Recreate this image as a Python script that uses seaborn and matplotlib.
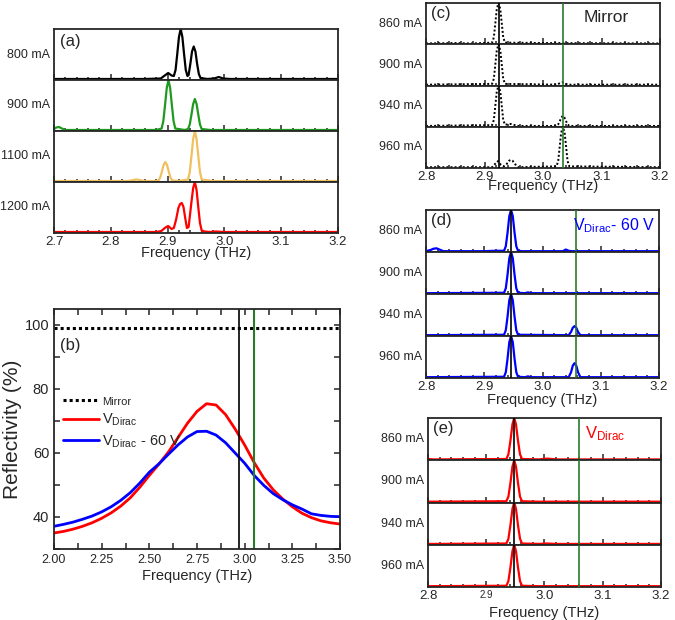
import matplotlib
matplotlib.use("Agg")
import matplotlib.pyplot as plt
from matplotlib.ticker import MultipleLocator, FixedLocator
from matplotlib.lines import Line2D
import seaborn as sns

sns.set_style("ticks")
plt.rcParams['font.family'] = ['Liberation Sans', 'DejaVu Sans']
plt.rcParams['mathtext.default'] = 'regular'

W, H = 675, 620
GREEN_LINE = '#2a7a2a'

# ---- panel (a): spectra vs current, 2.7-3.2 THz ----
a_labels = ["800 mA", "900 mA", "1100 mA", "1200 mA"]
a_colors = ["black", "#1f9a1f", "#f0c060", "#ff0000"]
a_800_f = [2.700, 2.860, 2.888, 2.895, 2.901, 2.907, 2.911, 2.914, 2.917, 2.920, 2.923, 2.926, 2.929,
           2.932, 2.935, 2.937, 2.940, 2.943, 2.946, 2.949, 2.952, 2.955, 2.958, 2.970, 2.982, 2.990,
           2.998, 3.010, 3.200]
a_800_s = [0.00, 0.00, 0.01, 0.07, 0.12, 0.07, 0.06, 0.18, 0.50, 0.84, 1.00, 0.84, 0.50,
           0.18, 0.06, 0.08, 0.30, 0.55, 0.65, 0.55, 0.30, 0.10, 0.02, 0.00, 0.01, 0.04,
           0.01, 0.00, 0.00]
a_900_f = [2.700, 2.704, 2.709, 2.714, 2.720, 2.880, 2.8895, 2.8925, 2.8955, 2.8985, 2.9015, 2.9045,
           2.9075, 2.9105, 2.9135, 2.930, 2.936, 2.939, 2.942, 2.945, 2.948, 2.951, 2.954, 2.957,
           2.960, 2.975, 3.200]
a_900_s = [0.02, 0.05, 0.06, 0.03, 0.00, 0.00, 0.03, 0.18, 0.50, 0.84, 1.00, 0.84,
           0.50, 0.18, 0.03, 0.00, 0.02, 0.11, 0.31, 0.52, 0.62, 0.52, 0.31, 0.11,
           0.02, 0.00, 0.00]
a_1100_f = [2.700, 2.830, 2.845, 2.860, 2.880, 2.884, 2.887, 2.890, 2.893, 2.896, 2.899, 2.902, 2.905,
            2.908, 2.920, 2.936, 2.939, 2.942, 2.945, 2.948, 2.951, 2.954, 2.957, 2.960, 2.980, 3.200]
a_1100_s = [0.00, 0.00, 0.03, 0.00, 0.00, 0.01, 0.07, 0.19, 0.32, 0.38, 0.32, 0.19, 0.07,
            0.01, 0.00, 0.03, 0.18, 0.50, 0.84, 1.00, 0.84, 0.50, 0.18, 0.03, 0.00, 0.00]
a_1200_f = [2.700, 2.880, 2.889, 2.895, 2.901, 2.907, 2.911, 2.915, 2.919, 2.922, 2.925, 2.928, 2.931,
            2.934, 2.937, 2.939, 2.942, 2.945, 2.948, 2.951, 2.954, 2.957, 2.960, 2.965, 2.975, 2.985,
            3.000, 3.200]
a_1200_s = [0.00, 0.00, 0.02, 0.08, 0.12, 0.06, 0.08, 0.25, 0.48, 0.56, 0.58, 0.50, 0.28,
            0.08, 0.10, 0.30, 0.60, 0.88, 1.00, 0.84, 0.50, 0.18, 0.03, 0.01, 0.00, 0.01,
            0.00, 0.00]

# ---- panel (b): reflectivity ----
b_freq = [2.00, 2.05, 2.10, 2.15, 2.20, 2.25, 2.30, 2.35, 2.40, 2.45, 2.50, 2.55, 2.60, 2.65, 2.70,
          2.75, 2.80, 2.85, 2.90, 2.95, 3.00, 3.05, 3.10, 3.15, 3.20, 3.25, 3.30, 3.35, 3.40, 3.45, 3.50]
b_dirac = [35.0, 35.5, 36.2, 37.1, 38.2, 39.6, 41.3, 43.4, 46.0, 49.3, 53.0, 56.5, 60.3, 64.8, 69.3,
           73.0, 75.4, 75.0, 72.0, 67.5, 62.5, 57.0, 52.2, 48.5, 45.6, 43.2, 41.2, 39.8, 38.8, 38.2, 37.8]
b_dirac60 = [37.1, 37.7, 38.4, 39.3, 40.3, 41.6, 43.2, 45.2, 47.6, 50.6, 54.0, 56.6, 59.6, 62.5, 65.0,
             66.7, 66.8, 65.6, 63.2, 60.0, 56.8, 53.0, 49.9, 47.3, 45.4, 43.8, 42.5, 41.0, 40.5, 40.2, 40.1]
b_mirror_f = [2.00, 3.50]
b_mirror = [99.0, 99.0]
b_black_line = 2.97
b_green_line = 3.05

# ---- panel (c): mirror, dotted ----
cde_labels = ["860 mA", "900 mA", "940 mA", "960 mA"]
c_860_f = [2.800, 2.850, 2.880, 2.913, 2.916, 2.9185, 2.921, 2.924, 2.927, 2.9295, 2.932, 2.935, 3.000, 3.200]
c_860_s = [0.00, 0.01, 0.00, 0.02, 0.15, 0.50, 0.85, 1.00, 0.85, 0.50, 0.15, 0.02, 0.01, 0.00]
c_900_f = [2.800, 2.913, 2.916, 2.9185, 2.921, 2.924, 2.927, 2.9295, 2.932, 2.935, 3.024, 3.029, 3.033,
           3.037, 3.042, 3.200]
c_900_s = [0.00, 0.02, 0.15, 0.50, 0.85, 1.00, 0.85, 0.50, 0.15, 0.02, 0.00, 0.04, 0.06,
           0.04, 0.00, 0.00]
c_940_f = [2.800, 2.913, 2.916, 2.9185, 2.921, 2.924, 2.927, 2.9295, 2.932, 2.935, 2.940, 2.945, 2.950,
           2.955, 3.023, 3.026, 3.029, 3.0315, 3.034, 3.0365, 3.039, 3.042, 3.045, 3.200]
c_940_s = [0.00, 0.02, 0.15, 0.50, 0.85, 1.00, 0.85, 0.50, 0.15, 0.03, 0.04, 0.05, 0.03,
           0.00, 0.00, 0.04, 0.13, 0.21, 0.25, 0.21, 0.13, 0.04, 0.00, 0.00]
c_960_f = [2.800, 2.913, 2.918, 2.923, 2.928, 2.933, 2.938, 2.942, 2.945, 2.948, 2.952, 2.957, 3.023,
           3.026, 3.0285, 3.031, 3.034, 3.037, 3.0395, 3.042, 3.045, 3.200]
c_960_s = [0.00, 0.00, 0.08, 0.15, 0.06, 0.02, 0.08, 0.16, 0.18, 0.16, 0.08, 0.00, 0.02,
           0.15, 0.50, 0.85, 1.00, 0.85, 0.50, 0.15, 0.02, 0.00]
c_black_line = 2.924
c_green_line = 3.034

# ---- panel (d): V_Dirac - 60 V ----
d_860_f = [2.800, 2.808, 2.813, 2.818, 2.823, 2.830, 2.900, 2.920, 2.934, 2.937, 2.940, 2.943, 2.946,
           2.949, 2.952, 2.955, 2.958, 2.965, 3.035, 3.040, 3.045, 3.050, 3.200]
d_860_s = [0.00, 0.03, 0.06, 0.07, 0.04, 0.00, 0.00, 0.01, 0.01, 0.12, 0.45, 0.85, 1.00,
           0.85, 0.45, 0.12, 0.01, 0.00, 0.00, 0.04, 0.01, 0.00, 0.00]
d_900_f = [2.800, 2.934, 2.937, 2.940, 2.943, 2.946, 2.949, 2.952, 2.955, 2.958, 2.970, 2.975, 2.980, 3.200]
d_900_s = [0.00, 0.01, 0.12, 0.45, 0.85, 1.00, 0.85, 0.45, 0.12, 0.01, 0.00, 0.02, 0.00, 0.00]
d_940_f = [2.800, 2.934, 2.937, 2.940, 2.943, 2.946, 2.949, 2.952, 2.955, 2.958, 3.045, 3.049, 3.052,
           3.055, 3.058, 3.061, 3.065, 3.200]
d_940_s = [0.00, 0.01, 0.12, 0.45, 0.85, 1.00, 0.85, 0.45, 0.12, 0.01, 0.00, 0.08, 0.18,
           0.22, 0.18, 0.08, 0.00, 0.00]
d_960_f = [2.800, 2.934, 2.937, 2.940, 2.943, 2.946, 2.949, 2.952, 2.955, 2.958, 2.970, 2.975, 2.980,
           3.045, 3.049, 3.052, 3.055, 3.058, 3.061, 3.065, 3.200]
d_960_s = [0.00, 0.01, 0.12, 0.45, 0.85, 1.00, 0.85, 0.45, 0.12, 0.01, 0.00, 0.02, 0.00,
           0.00, 0.12, 0.28, 0.34, 0.28, 0.12, 0.00, 0.00]
d_black_line = 2.946
d_green_line = 3.058

# ---- panel (e): V_Dirac ----
e_f = [2.800, 2.810, 2.9345, 2.938, 2.9415, 2.945, 2.948, 2.951, 2.9545, 2.958, 2.9615, 2.990, 3.005,
       3.020, 3.200]
e_860 = [0.01, 0.00, 0.01, 0.12, 0.45, 0.85, 1.00, 0.85, 0.45, 0.12, 0.01, 0.00, 0.02, 0.00, 0.00]
e_900 = [0.00, 0.00, 0.01, 0.12, 0.45, 0.85, 1.00, 0.85, 0.45, 0.12, 0.01, 0.00, 0.00, 0.00, 0.00]
e_940 = [0.00, 0.00, 0.01, 0.12, 0.45, 0.85, 1.00, 0.85, 0.45, 0.12, 0.01, 0.00, 0.01, 0.00, 0.00]
e_960 = [0.00, 0.00, 0.01, 0.12, 0.45, 0.85, 1.00, 0.85, 0.45, 0.12, 0.01, 0.00, 0.00, 0.00, 0.00]
e_black_line = 2.948
e_green_line = 3.060


fig = plt.figure(figsize=(W / 100, H / 100), dpi=100)


def px_axes(left, top, right, bottom):
    return fig.add_axes([left / W, 1 - bottom / H, (right - left) / W, (bottom - top) / H])


def stacked(rect, traces, labels, colors, xlim, major, ls='-', vlines=(), labelpad=-2, lw=1.6):
    left, top, right, bottom = rect
    h = (bottom - top) / len(traces)
    axes = []
    for i, (f, s) in enumerate(traces):
        ax = px_axes(left, top + i * h, right, top + (i + 1) * h)
        sns.lineplot(x=f, y=s, ax=ax, color=colors[i], linestyle=ls, lw=lw, errorbar=None)
        for xv, c in vlines:
            ax.axvline(xv, color=c, lw=1.2, zorder=3)
        ax.set_xlim(*xlim)
        ax.set_ylim(-0.02, 1.0)
        ax.set_yticks([])
        ax.set_ylabel(labels[i], rotation=0, ha='right', va='center', fontsize=9, labelpad=3)
        ax.xaxis.set_major_locator(MultipleLocator(major))
        ax.xaxis.set_minor_locator(MultipleLocator(0.02))
        ax.tick_params(axis='x', which='major', direction='in', length=4, width=1.1, labelsize=9.5, pad=2)
        ax.tick_params(axis='x', which='minor', direction='in', length=2, width=1.1)
        for sp in ax.spines.values():
            sp.set_linewidth(1.3)
        if i < len(traces) - 1:
            ax.tick_params(axis='x', labelbottom=False)
        else:
            ax.set_xlabel("Frequency (THz)", fontsize=10.5, labelpad=labelpad)
        axes.append(ax)
    return axes


# panel (a)
ax_a = stacked((54, 29, 338, 233),
               [(a_800_f, a_800_s), (a_900_f, a_900_s), (a_1100_f, a_1100_s), (a_1200_f, a_1200_s)],
               a_labels, a_colors, (2.7, 3.2), 0.1, labelpad=-1)
ax_a[0].text(0.02, 0.9, "(a)", transform=ax_a[0].transAxes, fontsize=12, va='top')

# panel (c)
dot = (0, (1, 1.1))
ax_c = stacked((426, 3, 660, 168),
               [(c_860_f, c_860_s), (c_900_f, c_900_s), (c_940_f, c_940_s), (c_960_f, c_960_s)],
               cde_labels, ["black"] * 4, (2.8, 3.2), 0.1, ls=dot,
               vlines=[(c_black_line, 'black'), (c_green_line, GREEN_LINE)], labelpad=-3, lw=1.4)
ax_c[0].text(0.02, 0.92, "(c)", transform=ax_c[0].transAxes, fontsize=12, va='top')
ax_c[0].text(0.77, 0.82, "Mirror", transform=ax_c[0].transAxes, fontsize=12.5, va='top', ha='center')

# panel (d)
ax_d = stacked((426, 210, 659, 378),
               [(d_860_f, d_860_s), (d_900_f, d_900_s), (d_940_f, d_940_s), (d_960_f, d_960_s)],
               cde_labels, ["#0000ff"] * 4, (2.8, 3.2), 0.1,
               vlines=[(d_black_line, 'black'), (d_green_line, GREEN_LINE)], labelpad=0)
ax_d[0].text(0.02, 0.92, "(d)", transform=ax_d[0].transAxes, fontsize=12, va='top')
ax_d[0].text(0.985, 0.85, "V$_{Dirac}$- 60 V", transform=ax_d[0].transAxes, fontsize=11.5,
             va='top', ha='right', color='#0000ff')

# panel (e)
ax_e = stacked((428, 418, 661, 587),
               [(e_f, e_860), (e_f, e_900), (e_f, e_940), (e_f, e_960)],
               cde_labels, ["#ff0000"] * 4, (2.8, 3.2), 0.1,
               vlines=[(e_black_line, 'black'), (e_green_line, GREEN_LINE)], labelpad=3)
ax_e[0].text(0.02, 0.92, "(e)", transform=ax_e[0].transAxes, fontsize=12, va='top')
ax_e[0].text(0.76, 0.85, "V$_{Dirac}$", transform=ax_e[0].transAxes, fontsize=12,
             va='top', ha='center', color='#ff0000')
for t in ax_e[-1].get_xticklabels():
    if t.get_text() == "2.9":
        t.set_fontsize(7)

# panel (b)
ax_b = px_axes(54, 309, 340, 549)
sns.lineplot(x=b_mirror_f, y=b_mirror, ax=ax_b, color='black', linestyle=(0, (1, 1)), lw=2.2, errorbar=None)
sns.lineplot(x=b_freq, y=b_dirac, ax=ax_b, color='#ff0000', lw=2.0, errorbar=None)
sns.lineplot(x=b_freq, y=b_dirac60, ax=ax_b, color='#0000ff', lw=2.0, errorbar=None)
ax_b.axvline(b_black_line, color='black', lw=1.2)
ax_b.axvline(b_green_line, color=GREEN_LINE, lw=1.5)
ax_b.set_xlim(2.0, 3.5)
ax_b.set_ylim(30, 105)
ax_b.xaxis.set_major_locator(MultipleLocator(0.25))
ax_b.xaxis.set_minor_locator(MultipleLocator(0.125))
ax_b.yaxis.set_major_locator(FixedLocator([40, 60, 80, 100]))
ax_b.yaxis.set_minor_locator(MultipleLocator(10))
ax_b.xaxis.set_major_formatter(plt.FormatStrFormatter('%.2f'))
ax_b.tick_params(which='both', direction='in', top=True, right=True, width=1.1)
ax_b.tick_params(which='major', length=4)
ax_b.tick_params(which='minor', length=4)
ax_b.tick_params(axis='x', labelsize=9)
ax_b.tick_params(axis='y', labelsize=10.5)
for sp in ax_b.spines.values():
    sp.set_linewidth(1.3)
ax_b.set_xlabel("Frequency (THz)", fontsize=10.5, labelpad=2)
ax_b.set_ylabel("Reflectivity (%)", fontsize=15, labelpad=2)
ax_b.text(0.02, 0.88, "(b)", transform=ax_b.transAxes, fontsize=12, va='top')
handles = [Line2D([], [], color='black', linestyle=(0, (1, 1)), lw=2.2),
           Line2D([], [], color='#ff0000', lw=2.0),
           Line2D([], [], color='#0000ff', lw=2.0)]
leg = ax_b.legend(handles, ["Mirror", "V$_{Dirac}$", "V$_{Dirac}$ - 60 V"], loc='upper left',
                  bbox_to_anchor=(0.0, 0.68), frameon=False, fontsize=10.5, handlelength=2.5,
                  handletextpad=0.2, labelspacing=0.35, borderaxespad=0.2)
leg.get_texts()[0].set_fontsize(8)

fig.savefig("out.png", dpi=100)
